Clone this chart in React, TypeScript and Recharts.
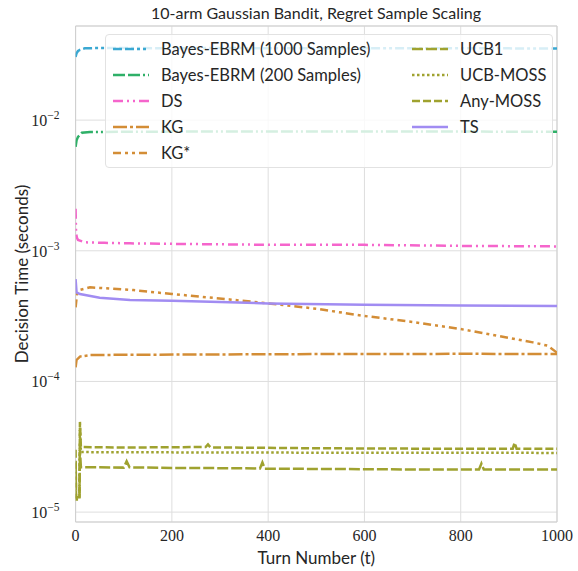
import React from "react";
import { LineChart, Line, XAxis, YAxis, CartesianGrid, ReferenceArea, Legend, Label } from "recharts";

type Pt = { t: number; v: number };
const pts = (rows: number[][]): Pt[] => rows.map(([t, v]) => ({ t, v }));

// decision time (seconds) per turn
const ebrm1000 = pts([
  [0, 0.0305], [2, 0.0325], [5, 0.0338], [9, 0.0345], [19, 0.0354], [40, 0.0356], [100, 0.0356],
  [200, 0.0355], [300, 0.0356], [400, 0.0355], [500, 0.0355], [600, 0.0354], [700, 0.0355],
  [800, 0.0354], [900, 0.0354], [1000, 0.0353],
]);
const ebrm200 = pts([
  [0, 0.00625], [2, 0.007], [5, 0.00744], [13, 0.008], [30, 0.0081], [100, 0.00815], [300, 0.00818],
  [500, 0.00818], [700, 0.00817], [900, 0.00816], [1000, 0.00816],
]);
const ds = pts([
  [0, 0.0021], [1, 0.00135], [3, 0.00125], [5, 0.00121], [20, 0.00116], [60, 0.00115], [113, 0.00114],
  [200, 0.00113], [300, 0.00112], [425, 0.00111], [600, 0.00111], [800, 0.00109], [1000, 0.00108],
]);
const kg = pts([
  [0, 1.28e-4], [2, 1.46e-4], [9, 1.55e-4], [30, 1.59e-4], [100, 1.6e-4], [300, 1.61e-4],
  [500, 1.62e-4], [700, 1.62e-4], [800, 1.63e-4], [900, 1.62e-4], [1000, 1.62e-4],
]);
const kgStar = pts([
  [0, 3.69e-4], [3, 4.67e-4], [9, 5.01e-4], [30, 5.25e-4], [50, 5.2e-4], [120, 5.0e-4], [200, 4.67e-4],
  [320, 4.24e-4], [425, 3.87e-4], [500, 3.6e-4], [597, 3.18e-4], [700, 2.85e-4], [799, 2.52e-4],
  [875, 2.24e-4], [950, 1.99e-4], [980, 1.88e-4], [1000, 1.66e-4],
]);
const ucb1 = pts([
  [0, 2.4e-5], [1, 1.25e-5], [8, 1.25e-5], [9, 3.0e-5], [11, 2.2e-5], [50, 2.2e-5], [100, 2.19e-5],
  [106, 2.45e-5], [112, 2.2e-5], [200, 2.18e-5], [300, 2.17e-5], [383, 2.16e-5], [388, 2.4e-5],
  [393, 2.15e-5], [500, 2.14e-5], [600, 2.13e-5], [700, 2.12e-5], [838, 2.12e-5], [843, 2.35e-5],
  [848, 2.12e-5], [1000, 2.12e-5],
]);
const ucbMoss = pts([
  [0, 1.3e-5], [8, 1.3e-5], [9, 4.5e-5], [11, 2.88e-5], [100, 2.87e-5], [300, 2.86e-5],
  [500, 2.85e-5], [700, 2.84e-5], [912, 2.85e-5], [1000, 2.83e-5],
]);
const anyMoss = pts([
  [0, 3.0e-5], [1, 1.3e-5], [8, 1.3e-5], [9, 4.9e-5], [11, 3.15e-5], [100, 3.12e-5], [270, 3.15e-5],
  [275, 3.3e-5], [280, 3.13e-5], [500, 3.08e-5], [700, 3.06e-5], [908, 3.06e-5], [912, 3.4e-5],
  [916, 3.06e-5], [1000, 3.05e-5],
]);
const ts = pts([
  [0, 6.07e-4], [2, 4.8e-4], [9, 4.66e-4], [50, 4.37e-4], [113, 4.2e-4], [200, 4.15e-4],
  [300, 4.05e-4], [400, 3.95e-4], [600, 3.86e-4], [800, 3.81e-4], [1000, 3.78e-4],
]);

const xTicks = [0, 200, 400, 600, 800, 1000];
const yTicks = [1e-5, 1e-4, 1e-3, 1e-2];
const yDomain = [8.4e-6, 0.0525];

const SANS = "Lato, 'DejaVu Sans', sans-serif";
const SERIF = "'Liberation Serif', 'DejaVu Serif', serif";
const INK = "#262626";

const series = [
  { name: "Bayes-EBRM (1000 Samples)", data: ebrm1000, color: "#3aa8d2", dash: "9 3 9 3 3 3 3 3", col: 0 },
  { name: "Bayes-EBRM (200 Samples)", data: ebrm200, color: "#2fb068", dash: "12 3 12 3 2 3 2 3", col: 0 },
  { name: "DS", data: ds, color: "#f565cc", dash: "10 4 2 4 2 4", col: 0 },
  { name: "KG", data: kg, color: "#d38d36", dash: "14 3 3 3", col: 0 },
  { name: "KG*", data: kgStar, color: "#d38d36", dash: "8 4 3 4 3 4", col: 0 },
  { name: "UCB1", data: ucb1, color: "#9fa22f", dash: "11 3", col: 1 },
  { name: "UCB-MOSS", data: ucbMoss, color: "#9fa22f", dash: "2.5 2.5", col: 1 },
  { name: "Any-MOSS", data: anyMoss, color: "#9fa22f", dash: "8 3", col: 1 },
  { name: "TS", data: ts, color: "#a18cf2", dash: undefined, col: 1 },
];

const YTick = (props: any) => {
  const { x, y, payload } = props;
  const exp = Math.round(Math.log10(payload.value));
  return (
    <text x={x - 8} y={y + 6} textAnchor="end" fontFamily={SERIF} fontSize={16} fill={INK}>
      10
      <tspan dy={-7} fontSize={11.5}>{`\u2212${Math.abs(exp)}`}</tspan>
    </text>
  );
};

const XTick = (props: any) => {
  const { x, y, payload } = props;
  return (
    <text x={x} y={y + 11} textAnchor="middle" fontFamily={SERIF} fontSize={16} fill={INK}>
      {payload.value}
    </text>
  );
};

const LegendBox = () => {
  const row = (s: (typeof series)[number]) => (
    <div key={s.name} style={{ display: "flex", alignItems: "center", height: 26 }}>
      <svg width={36} height={10} style={{ marginRight: 12 }}>
        <line x1={0} y1={5} x2={36} y2={5} stroke={s.color} strokeWidth={2.6} strokeDasharray={s.dash} />
      </svg>
      <span>{s.name}</span>
    </div>
  );
  return (
    <div
      style={{
        boxSizing: "border-box",
        width: 448,
        height: 134,
        padding: "1px 0 0 7px",
        background: "rgba(255,255,255,0.8)",
        border: "1px solid #e2e2e2",
        borderRadius: 4,
        display: "flex",
        fontFamily: SANS,
        fontSize: 16.5,
        color: INK,
      }}
    >
      <div style={{ width: 299 }}>{series.filter((s) => s.col === 0).map(row)}</div>
      <div>{series.filter((s) => s.col === 1).map(row)}</div>
    </div>
  );
};

export default function App() {
  return (
    <div style={{ position: "absolute", left: 0, top: 0, width: 578, height: 571, background: "#fff" }}>
      <div
        style={{
          position: "absolute",
          left: 75,
          width: 482,
          top: 3,
          textAlign: "center",
          fontFamily: SANS,
          fontSize: 16,
          color: INK,
        }}
      >
        10-arm Gaussian Bandit, Regret Sample Scaling
      </div>
      <LineChart width={578} height={571} margin={{ top: 26, right: 21, left: 0, bottom: 0 }}>
        <CartesianGrid stroke="#dedede" strokeWidth={1} />
        <ReferenceArea x1={0} x2={1000} y1={yDomain[0]} y2={yDomain[1]} fill="none" stroke="#cfcfcf" strokeWidth={1} ifOverflow="visible" />
        <XAxis
          type="number"
          dataKey="t"
          domain={[0, 1000]}
          ticks={xTicks}
          height={49}
          axisLine={false}
          tickLine={false}
          tick={<XTick />}
          allowDataOverflow
        >
          <Label
            content={(p: any) => (
              <text x={p.viewBox.x + p.viewBox.width / 2} y={p.viewBox.y + 42} textAnchor="middle" fontFamily={SANS} fontSize={17} fill={INK}>
                Turn Number (t)
              </text>
            )}
          />
        </XAxis>
        <YAxis
          type="number"
          scale="log"
          domain={yDomain}
          ticks={yTicks}
          width={75.6}
          axisLine={false}
          tickLine={false}
          tick={<YTick />}
          allowDataOverflow
        >
          <Label
            content={(p: any) => {
              const cx = 21;
              const cy = p.viewBox.y + p.viewBox.height / 2;
              return (
                <text x={cx} y={cy} transform={`rotate(-90 ${cx} ${cy})`} textAnchor="middle" dominantBaseline="central" fontFamily={SANS} fontSize={17} fill={INK}>
                  Decision Time (seconds)
                </text>
              );
            }}
          />
        </YAxis>
        {series.map((s) => (
          <Line
            key={s.name}
            data={s.data}
            dataKey="v"
            name={s.name}
            type="linear"
            stroke={s.color}
            strokeWidth={2.5}
            strokeDasharray={s.dash}
            dot={false}
            activeDot={false}
            isAnimationActive={false}
          />
        ))}
        <Legend
          layout="vertical"
          align="center"
          verticalAlign="middle"
          content={() => <LegendBox />}
          wrapperStyle={{ position: "absolute", left: 105, top: 34, width: 448, height: 134, margin: 0 }}
        />
      </LineChart>
    </div>
  );
}
